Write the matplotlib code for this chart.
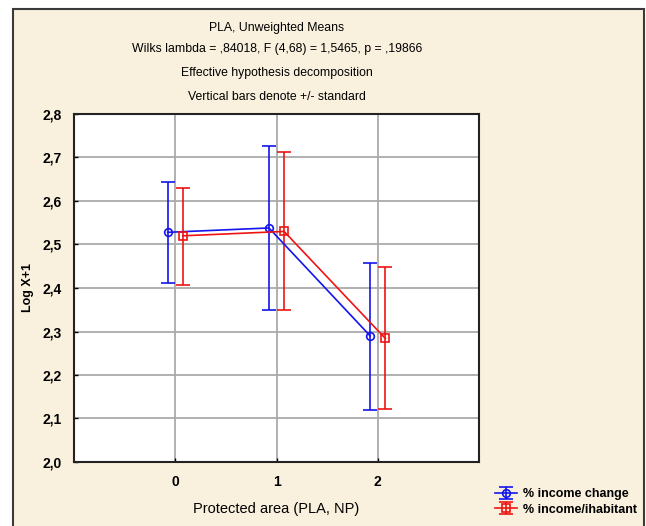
import matplotlib.pyplot as plt
from matplotlib.patches import Rectangle

plt.rcParams['font.family'] = ['Liberation Sans', 'DejaVu Sans']

groups = [0, 1, 2]
change_mean = [2.528, 2.538, 2.290]
change_upper = [2.644, 2.726, 2.457]
change_lower = [2.412, 2.349, 2.120]
hab_mean = [2.520, 2.530, 2.284]
hab_upper = [2.631, 2.713, 2.448]
hab_lower = [2.408, 2.349, 2.122]

title_lines = ["PLA, Unweighted Means",
               "Wilks lambda = ,84018, F (4,68) = 1,5465, p = ,19866",
               "Effective hypothesis decomposition",
               "Vertical bars denote +/- standard"]
yticks = [2.0, 2.1, 2.2, 2.3, 2.4, 2.5, 2.6, 2.7, 2.8]

cream = '#F9F1DE'
fig = plt.figure(figsize=(6.46, 5.26), dpi=100)
fig.patch.set_facecolor('white')
frame = Rectangle((13 / 646, -0.01), 631 / 646, 1 - 9 / 526 + 0.01,
                  transform=fig.transFigure, facecolor=cream,
                  edgecolor='#3a3a3a', linewidth=1.5, zorder=-5)
fig.patches.append(frame)

ax = fig.add_axes([74 / 646, 64 / 526, 405 / 646, 348 / 526])
ax.set_facecolor('white')

off = 0.075
xb = [g - off for g in groups]
xr = [g + off for g in groups]
eb = [[m - l for m, l in zip(change_mean, change_lower)],
      [u - m for m, u in zip(change_mean, change_upper)]]
er = [[m - l for m, l in zip(hab_mean, hab_lower)],
      [u - m for m, u in zip(hab_mean, hab_upper)]]
ax.errorbar(xb, change_mean, yerr=eb, color='#1414ee', lw=1.2, elinewidth=1.2,
            capsize=5, capthick=1.2, marker='o', ms=5.5, mfc='none', mew=1.2,
            label='% income change', zorder=3)
ax.errorbar(xr, hab_mean, yerr=er, color='#ee1414', lw=1.2, elinewidth=1.2,
            capsize=5, capthick=1.2, marker='s', ms=5.5, mfc='none', mew=1.2,
            label='% income/ihabitant', zorder=3)

ax.set_xlim(-1, 3)
ax.set_ylim(2.0, 2.8)
ax.set_xticks(groups)
ax.set_xticklabels([str(g) for g in groups])
ax.set_yticks(yticks)
ax.set_yticklabels([f"{t:.1f}".replace('.', ',') for t in yticks])
ax.grid(True, color='#aaaaaa', lw=1.3)
ax.set_axisbelow(True)
ax.tick_params(axis='both', direction='in', length=3, width=1, labelsize=10, pad=9)
for lab in ax.get_xticklabels() + ax.get_yticklabels():
    lab.set_fontweight('bold')
for s in ax.spines.values():
    s.set_linewidth(1.5)
    s.set_color('#222222')

ax.set_xlabel("Protected area (PLA, NP)", fontsize=10.5, labelpad=10)
ax.set_ylabel("Log X+1", fontsize=9, fontweight='bold', labelpad=6)

ys = [28, 49, 73, 97]
for t, y in zip(title_lines, ys):
    fig.text(277 / 646, 1 - y / 526, t, ha='center', va='center', fontsize=8.8)

ax.legend(loc='center left', bbox_to_anchor=(484 / 646, 1 - 502 / 526),
          bbox_transform=fig.transFigure, frameon=False,
          handlelength=1.7, labelspacing=0.25, handletextpad=0.5,
          prop={'weight': 'bold', 'size': 9})

fig.savefig('out.png', dpi=100, facecolor=fig.get_facecolor())
